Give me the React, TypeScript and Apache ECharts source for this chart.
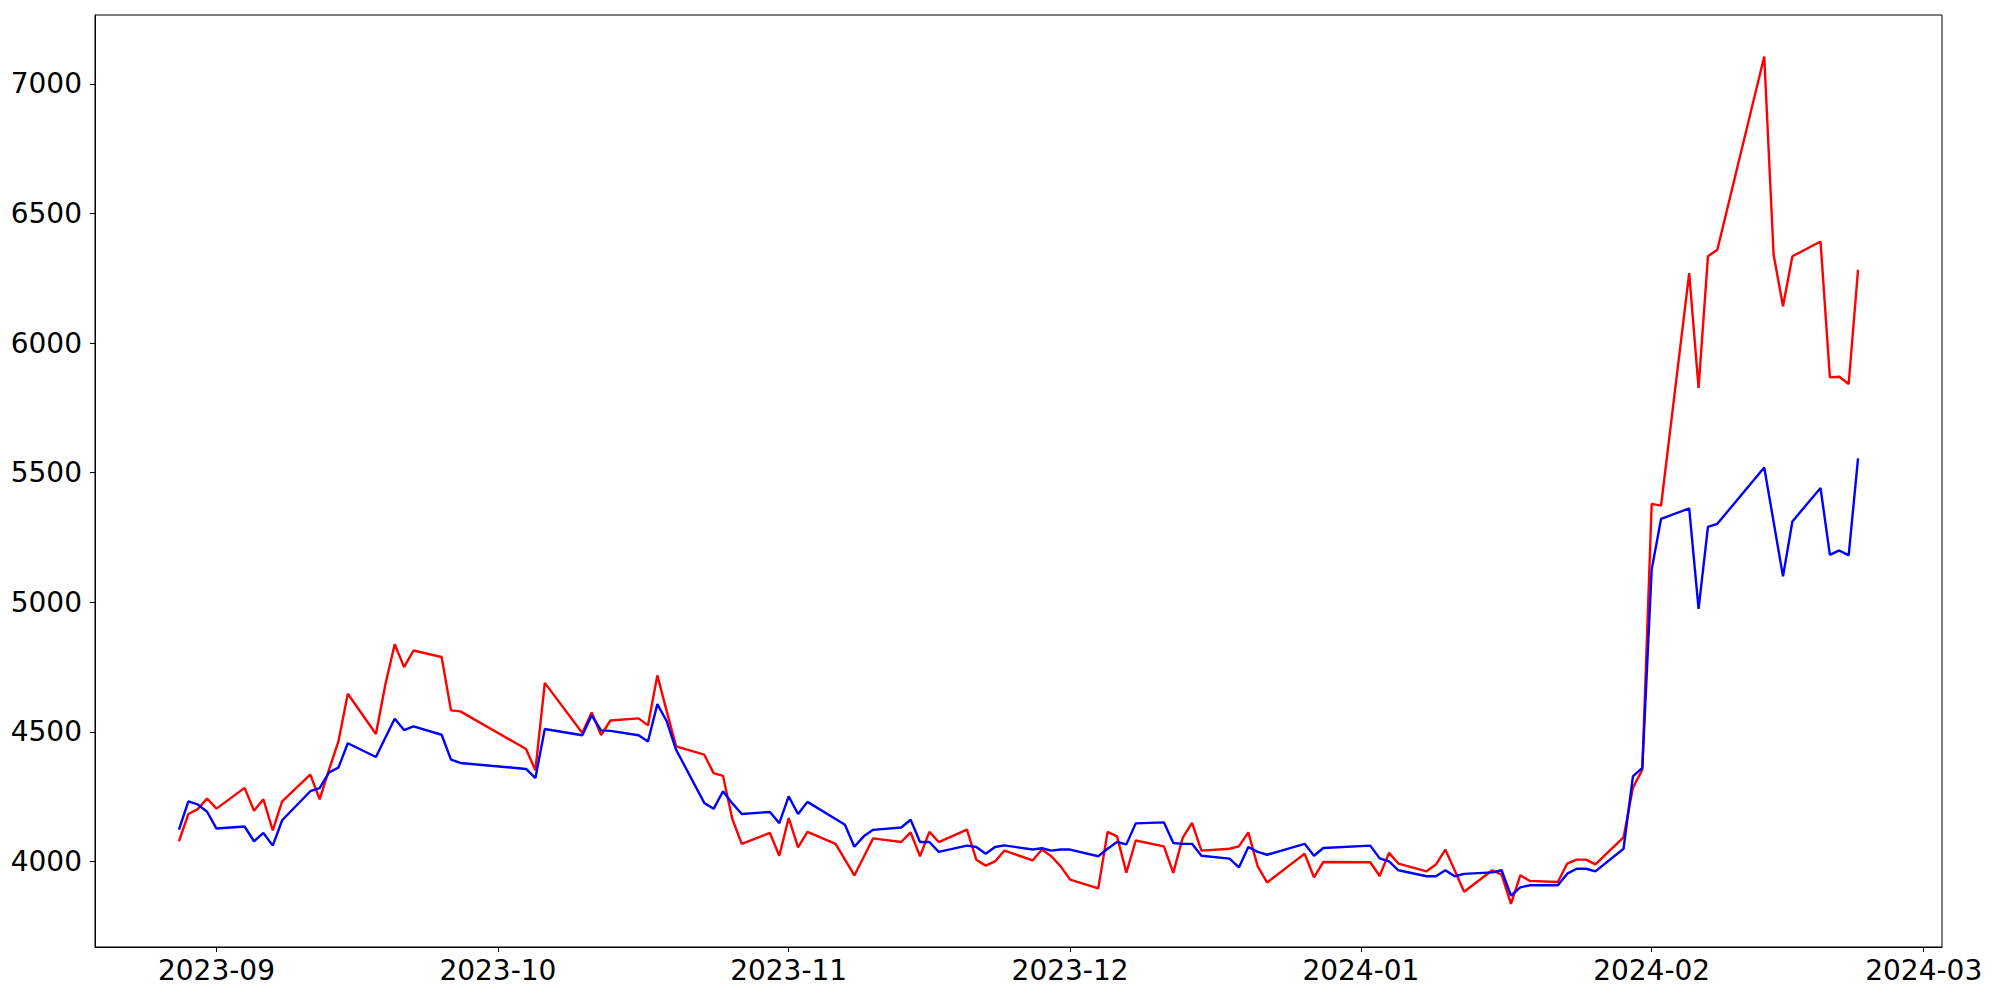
import React, { useEffect, useRef } from "react";
import * as echarts from "echarts";

const dates: string[] = [
  "2023-08-28", "2023-08-29", "2023-08-30", "2023-08-31", "2023-09-01",
  "2023-09-04", "2023-09-05", "2023-09-06", "2023-09-07", "2023-09-08",
  "2023-09-11", "2023-09-12", "2023-09-13", "2023-09-14", "2023-09-15",
  "2023-09-18", "2023-09-19", "2023-09-20", "2023-09-21", "2023-09-22",
  "2023-09-25", "2023-09-26", "2023-09-27",
  "2023-10-04", "2023-10-05", "2023-10-06",
  "2023-10-10", "2023-10-11", "2023-10-12", "2023-10-13",
  "2023-10-16", "2023-10-17", "2023-10-18", "2023-10-19", "2023-10-20",
  "2023-10-23", "2023-10-24", "2023-10-25", "2023-10-26", "2023-10-27",
  "2023-10-30", "2023-10-31", "2023-11-01", "2023-11-02", "2023-11-03",
  "2023-11-06", "2023-11-07", "2023-11-08", "2023-11-09", "2023-11-10",
  "2023-11-13", "2023-11-14", "2023-11-15", "2023-11-16", "2023-11-17",
  "2023-11-20", "2023-11-21", "2023-11-22", "2023-11-23", "2023-11-24",
  "2023-11-27", "2023-11-28", "2023-11-29", "2023-11-30", "2023-12-01",
  "2023-12-04", "2023-12-05", "2023-12-06", "2023-12-07", "2023-12-08",
  "2023-12-11", "2023-12-12", "2023-12-13", "2023-12-14", "2023-12-15",
  "2023-12-18", "2023-12-19", "2023-12-20", "2023-12-21", "2023-12-22",
  "2023-12-26", "2023-12-27", "2023-12-28",
  "2024-01-02", "2024-01-03", "2024-01-04", "2024-01-05",
  "2024-01-08", "2024-01-09", "2024-01-10", "2024-01-11", "2024-01-12",
  "2024-01-15", "2024-01-16", "2024-01-17", "2024-01-18", "2024-01-19",
  "2024-01-22", "2024-01-23", "2024-01-24", "2024-01-25", "2024-01-26",
  "2024-01-29", "2024-01-30", "2024-01-31", "2024-02-01", "2024-02-02",
  "2024-02-05", "2024-02-06", "2024-02-07", "2024-02-08",
  "2024-02-13", "2024-02-14", "2024-02-15", "2024-02-16",
  "2024-02-19", "2024-02-20", "2024-02-21", "2024-02-22", "2024-02-23",
];

const redValues: number[] = [
  4078, 4183, 4202, 4243, 4204,
  4284, 4196, 4240, 4120, 4232,
  4335, 4240, 4354, 4463, 4647,
  4492, 4682, 4838, 4750, 4814,
  4789, 4583, 4579,
  4434, 4352, 4689,
  4496, 4575, 4488, 4544,
  4552, 4525, 4718, 4579, 4444,
  4412, 4341, 4330, 4163, 4068,
  4110, 4022, 4168, 4054, 4114,
  4068, 4007, 3946, 4017, 4089,
  4075, 4112, 4020, 4114, 4075,
  4123, 4007, 3984, 4000, 4042,
  4004, 4046, 4020, 3981, 3930,
  3896, 4114, 4097, 3957, 4081,
  4058, 3956, 4091, 4149, 4042,
  4049, 4058, 4112, 3981, 3919,
  4030, 3939, 3998,
  3997, 3944, 4033, 3992,
  3962, 3988, 4046, 3966, 3883,
  3966, 3949, 3836, 3947, 3925,
  3921, 3992, 4007, 4007, 3989,
  4093, 4284, 4354, 5380, 5373,
  6270, 5827, 6335, 6360,
  7106, 6341, 6142, 6335,
  6392, 5868, 5870, 5842, 6283,
];

const blueValues: number[] = [
  4123, 4232, 4220, 4192, 4127,
  4135, 4078, 4110, 4061, 4159,
  4271, 4283, 4344, 4362, 4456,
  4403, 4477, 4551, 4507, 4521,
  4489, 4393, 4380,
  4357, 4322, 4511,
  4487, 4564, 4506, 4504,
  4487, 4463, 4607, 4541, 4431,
  4226, 4203, 4271, 4224, 4183,
  4191, 4148, 4251, 4183, 4230,
  4164, 4142, 4057, 4097, 4122,
  4131, 4161, 4075, 4075, 4037,
  4061, 4056, 4030, 4056, 4062,
  4046, 4051, 4042, 4046, 4046,
  4020, 4049, 4075, 4066, 4147,
  4151, 4071, 4068, 4068, 4022,
  4011, 3977, 4056, 4037, 4026,
  4068, 4022, 4052,
  4061, 4012, 4000, 3966,
  3943, 3943, 3966, 3943, 3952,
  3958, 3966, 3868, 3900, 3908,
  3908, 3953, 3972, 3972, 3962,
  4049, 4328, 4361, 5126, 5322,
  5362, 4975, 5291, 5303,
  5520, 5310, 5100, 5312,
  5441, 5183, 5200, 5181, 5555,
];

const xTickDates: string[] = [
  "2023-09-01", "2023-10-01", "2023-11-01", "2023-12-01",
  "2024-01-01", "2024-02-01", "2024-03-01",
];

const yTicks: number[] = [4000, 4500, 5000, 5500, 6000, 6500, 7000];

function ts(s: string): number {
  const [y, m, d] = s.split("-").map(Number);
  return new Date(y, m - 1, d).getTime();
}

function fmtMonth(v: number): string {
  const d = new Date(v);
  const mm = String(d.getMonth() + 1).padStart(2, "0");
  return `${d.getFullYear()}-${mm}`;
}

export default function App() {
  const ref = useRef<HTMLDivElement | null>(null);

  useEffect(() => {
    if (!ref.current) return;
    const chart = echarts.init(ref.current, undefined, { renderer: "svg" });
    const first = ts(dates[0]);
    const last = ts(dates[dates.length - 1]);
    const pad = (last - first) * 0.05;
    const xTicks = xTickDates.map(ts);
    const font = "DejaVu Sans";

    chart.setOption({
      animation: false,
      backgroundColor: "#ffffff",
      grid: {
        left: 95,
        right: 58,
        top: 15,
        bottom: 53,
        show: true,
        borderColor: "#000000",
        borderWidth: 1,
        backgroundColor: "transparent",
      },
      xAxis: {
        type: "value",
        min: first - pad,
        max: last + pad,
        scale: true,
        splitLine: { show: false },
        axisLine: { show: true, lineStyle: { color: "#000000", width: 1 } },
        axisTick: {
          show: true,
          length: 5,
          lineStyle: { color: "#000000", width: 1 },
          customValues: xTicks,
        },
        axisLabel: {
          show: true,
          customValues: xTicks,
          formatter: (v: number) => fmtMonth(v),
          color: "#000000",
          fontFamily: font,
          fontSize: 28,
          margin: 9,
          hideOverlap: false,
        },
      },
      yAxis: {
        type: "value",
        min: 3670,
        max: 7266,
        splitLine: { show: false },
        axisLine: { show: true, lineStyle: { color: "#000000", width: 1 } },
        axisTick: {
          show: true,
          length: 5,
          lineStyle: { color: "#000000", width: 1 },
          customValues: yTicks,
        },
        axisLabel: {
          show: true,
          customValues: yTicks,
          formatter: (v: number) => String(v),
          color: "#000000",
          fontFamily: font,
          fontSize: 28,
          margin: 13,
        },
      },
      series: [
        {
          type: "line",
          data: dates.map((d, i) => [ts(d), redValues[i]]),
          showSymbol: false,
          symbol: "none",
          lineStyle: { color: "#ff0000", width: 2.4 },
          itemStyle: { color: "#ff0000" },
          z: 2,
        },
        {
          type: "line",
          data: dates.map((d, i) => [ts(d), blueValues[i]]),
          showSymbol: false,
          symbol: "none",
          lineStyle: { color: "#0000ff", width: 2.4 },
          itemStyle: { color: "#0000ff" },
          z: 3,
        },
      ],
    });

    return () => {
      chart.dispose();
    };
  }, []);

  return (
    <div
      ref={ref}
      style={{
        position: "fixed",
        left: 0,
        top: 0,
        width: 2000,
        height: 1000,
        background: "#ffffff",
      }}
    />
  );
}
